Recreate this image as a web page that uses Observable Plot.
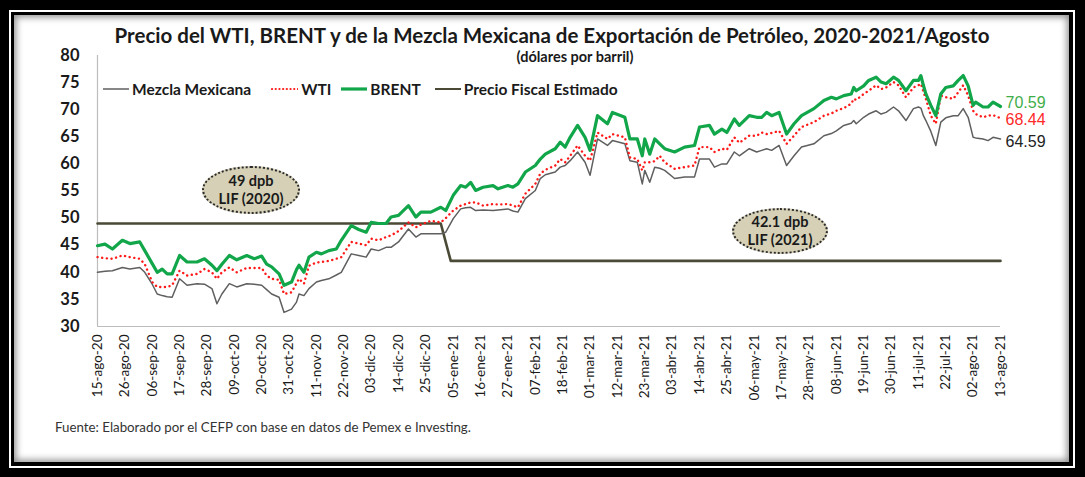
<!DOCTYPE html>
<html><head><meta charset="utf-8">
<script src="https://cdn.jsdelivr.net/npm/d3@7"></script>
<script src="https://cdn.jsdelivr.net/npm/@observablehq/plot@0.6"></script>
<style>
body{margin:0;background:#000;}
#frame{position:relative;width:1085px;height:477px;background:#000;overflow:hidden;font-family:Lato,"DejaVu Sans",sans-serif;}
#ring{position:absolute;left:9px;top:10px;width:1066px;height:458px;box-sizing:border-box;border:2px solid #fff;background:#000;}
#panel{position:absolute;left:14px;top:15px;width:1055px;height:447px;background:#fff;box-shadow:inset 0 0 7px 2px rgba(0,0,0,0.45);}
#chart{position:absolute;left:0;top:0;}
.title{position:absolute;left:0;width:1104px;text-align:center;top:23px;font-weight:bold;font-size:20.5px;color:#1a1a1a;white-space:nowrap;}
.subtitle{position:absolute;left:0;width:1150px;text-align:center;top:48px;font-weight:bold;font-size:14.5px;color:#1a1a1a;}
.legend{position:absolute;left:102px;top:80px;font-weight:bold;font-size:15.5px;color:#1a1a1a;display:flex;align-items:center;white-space:nowrap;}
.legend span.item{display:flex;align-items:center;}
.legend svg{margin-right:3px;}
.ell{position:absolute;box-sizing:border-box;border-radius:50%;background:#d6d1b6;border:2px dotted #2b2b2b;text-align:center;font-weight:bold;font-size:14.5px;line-height:18px;color:#1a1a1a;display:flex;flex-direction:column;justify-content:center;}
.foot{position:absolute;left:55px;top:419px;font-size:13.3px;color:#333;white-space:nowrap;}
</style></head>
<body>
<div id="frame">
  <div id="ring"></div>
  <div id="panel"></div>
  <div id="chart"></div>
  <div class="title">Precio del WTI, BRENT y de la Mezcla Mexicana de Exportación de Petróleo, 2020-2021/Agosto</div>
  <div class="subtitle">(dólares por barril)</div>
  <div class="legend" id="legend"></div>
  <div class="ell" style="left:202px;top:166px;width:98px;height:48px;"><div>49 dpb</div><div>LIF (2020)</div></div>
  <div class="ell" style="left:732px;top:208px;width:96px;height:46px;"><div>42.1 dpb</div><div>LIF (2021)</div></div>
  <div class="foot">Fuente: Elaborado por el CEFP con base en datos de Pemex e Investing.</div>
</div>
<script>
const dates = [
"2020-08-15","2020-08-18","2020-08-21","2020-08-25","2020-08-28","2020-09-01","2020-09-03","2020-09-06","2020-09-08","2020-09-10","2020-09-12","2020-09-14","2020-09-17","2020-09-20","2020-09-24","2020-09-27","2020-09-30","2020-10-02","2020-10-04","2020-10-07","2020-10-10","2020-10-14","2020-10-17","2020-10-20","2020-10-22","2020-10-24","2020-10-27","2020-10-29",
"2020-11-01","2020-11-03","2020-11-04","2020-11-06","2020-11-08","2020-11-11","2020-11-13","2020-11-16","2020-11-19","2020-11-21","2020-11-25","2020-11-28","2020-12-01","2020-12-03","2020-12-06","2020-12-09","2020-12-11","2020-12-14","2020-12-18","2020-12-21","2020-12-23","2020-12-27","2020-12-31",
"2021-01-02","2021-01-05","2021-01-08","2021-01-10","2021-01-12","2021-01-14","2021-01-17","2021-01-21","2021-01-23","2021-01-27","2021-01-29","2021-01-31","2021-02-03","2021-02-07","2021-02-09","2021-02-11","2021-02-15","2021-02-17","2021-02-19","2021-02-21","2021-02-24","2021-02-27","2021-03-01",
"2021-03-04","2021-03-08","2021-03-10","2021-03-15","2021-03-17","2021-03-20","2021-03-22","2021-03-23","2021-03-25","2021-03-27","2021-03-29","2021-03-31","2021-04-04","2021-04-08","2021-04-12",
"2021-04-14","2021-04-18","2021-04-20","2021-04-23","2021-04-25","2021-04-28","2021-04-30","2021-05-04","2021-05-07","2021-05-09","2021-05-11","2021-05-13","2021-05-16","2021-05-19","2021-05-22","2021-05-25","2021-05-30",
"2021-06-03","2021-06-06","2021-06-08","2021-06-11","2021-06-14","2021-06-15","2021-06-16","2021-06-19","2021-06-21","2021-06-24","2021-06-26","2021-06-28","2021-07-01","2021-07-03","2021-07-06","2021-07-09","2021-07-11","2021-07-12","2021-07-13","2021-07-14","2021-07-16","2021-07-18","2021-07-20","2021-07-22","2021-07-25","2021-07-27","2021-07-29","2021-07-31","2021-08-02","2021-08-03","2021-08-06","2021-08-08","2021-08-10","2021-08-13"];

const brent = [
44.9,45.2,44.3,45.9,45.3,45.6,44.0,41.6,40.0,40.6,39.7,39.7,43.1,41.9,41.9,42.5,41.3,40.3,41.5,43.1,42.3,43.1,42.5,43.0,41.5,41.0,39.7,37.6,
38.2,40.5,41.3,40.0,42.8,43.7,43.4,44.0,44.3,45.9,48.6,47.9,47.4,49.2,49.0,49.0,50.2,50.5,52.3,50.2,51.1,51.1,52.0,
51.4,54.2,56.0,55.7,56.6,55.1,55.7,56.0,55.4,56.0,55.7,56.3,58.5,59.7,60.9,61.8,62.8,64.0,63.1,64.9,67.1,64.9,62.5,
68.9,67.4,69.5,68.6,64.6,64.6,61.5,64.6,61.8,64.6,63.7,62.8,62.2,63.1,63.4,
66.8,67.1,65.5,66.4,65.8,68.3,67.1,68.9,68.6,68.6,69.5,68.9,69.5,65.5,67.4,68.9,70.2,
71.7,72.3,72.0,72.6,72.9,74.1,73.5,74.4,75.4,76.0,75.1,74.8,76.0,75.4,73.5,75.4,75.4,76.3,74.5,72.9,70.8,68.9,72.9,74.1,74.4,75.4,76.3,74.4,70.8,71.4,70.5,70.5,71.4,70.59];

const wti = [
42.8,42.6,42.5,43.1,42.8,42.5,41.5,38.2,37.3,37.3,37.3,37.6,40.3,39.4,39.7,40.6,40.0,38.8,40.0,40.9,40.0,40.8,40.8,40.8,39.4,38.8,38.6,36.0,
36.3,38.0,38.8,37.9,41.2,41.8,41.9,42.1,42.5,42.8,45.6,45.3,45.0,46.2,45.9,46.5,46.8,47.6,49.2,48.3,48.8,49.5,49.2,
50.0,51.4,52.3,52.6,52.9,52.9,52.3,52.6,52.5,52.6,52.3,52.0,54.5,56.3,58.2,58.9,59.7,60.9,60.3,61.5,63.4,61.5,60.6,
65.8,64.6,65.5,64.9,61.2,60.9,58.8,60.3,60.3,60.5,61.5,60.3,59.1,59.4,59.7,
63.1,63.1,62.2,62.8,62.6,64.9,63.9,65.2,65.2,65.8,65.5,65.7,66.1,63.7,65.2,66.8,67.7,
68.9,69.3,69.8,70.3,71.1,72.0,71.8,72.9,73.5,74.5,73.8,74.1,75.1,74.5,72.3,74.1,74.5,74.8,73.4,72.0,68.9,67.4,72.6,72.3,72.0,73.2,74.5,72.6,69.8,69.2,68.6,68.9,69.0,68.44];

const mezcla = [
40.0,40.2,40.3,40.9,40.6,40.9,40.0,37.8,36.0,35.7,35.5,35.4,38.8,37.6,37.9,37.8,37.0,34.2,36.0,37.9,37.3,37.9,37.8,37.6,36.8,36.0,35.4,32.6,
33.2,34.5,36.0,35.7,37.0,38.2,38.5,38.8,39.5,40.0,43.4,43.1,42.8,44.3,44.0,44.6,44.6,45.6,48.0,46.5,47.1,47.1,47.1,
47.4,49.9,51.7,51.9,52.0,51.4,51.5,51.4,51.5,51.7,51.3,51.1,53.6,55.1,57.3,58.0,58.5,59.4,59.7,60.6,62.2,60.3,57.9,
64.6,63.4,64.3,63.7,60.6,60.3,56.3,58.8,56.6,59.4,59.2,58.8,57.3,57.6,57.6,
60.9,60.9,59.4,60.0,60.0,62.2,61.5,62.8,62.2,62.5,62.8,62.5,63.4,59.7,61.5,63.1,63.7,
65.2,65.6,66.1,67.1,67.5,68.0,67.4,68.6,69.2,69.8,69.2,69.5,70.5,69.8,68.0,70.2,70.5,70.3,68.9,68.0,66.0,63.4,67.7,68.5,68.9,68.9,70.2,68.6,64.9,64.8,64.6,64.3,64.9,64.59];

const fiscalDates = ["2020-08-15","2020-12-31","2021-01-04","2021-08-13"];
const fiscalValues = [49, 49, 42.1, 42.1];

const yTicks = [30,35,40,45,50,55,60,65,70,75,80];
const xTickLabels = ["15-ago-20","26-ago-20","06-sep-20","17-sep-20","28-sep-20","09-oct-20","20-oct-20","31-oct-20","11-nov-20","22-nov-20","03-dic-20","14-dic-20","25-dic-20","05-ene-21","16-ene-21","27-ene-21","07-feb-21","18-feb-21","01-mar-21","12-mar-21","23-mar-21","03-abr-21","14-abr-21","25-abr-21","06-may-21","17-may-21","28-may-21","08-jun-21","19-jun-21","30-jun-21","11-jul-21","22-jul-21","02-ago-21","13-ago-21"];

const seriesNames = ["Mezcla Mexicana","WTI","BRENT","Precio Fiscal Estimado"];
const colors = {"Mezcla Mexicana":"#5f5f5f","WTI":"#ff1a1a","BRENT":"#12a64a","Precio Fiscal Estimado":"#4a4a36"};

const meses = {ene:0,feb:1,mar:2,abr:3,may:4,jun:5,jul:6,ago:7,sep:8,oct:9,nov:10,dic:11};
const parseLabel = s => { const [d,m,y] = s.split("-"); return new Date(Date.UTC(2000 + +y, meses[m], +d)); };
const tickDates = xTickLabels.map(parseLabel);
const labelByTime = new Map(tickDates.map((d,i) => [+d, xTickLabels[i]]));
const parse = s => new Date(s + "T00:00:00Z");

const rows = dates.map((d,i) => ({date: parse(d), brent: brent[i], wti: wti[i], mezcla: mezcla[i]}));
const fiscal = fiscalDates.map((d,i) => ({date: parse(d), v: fiscalValues[i]}));
const last = rows[rows.length-1];
const endFont = "Liberation Sans, Arial, sans-serif";

const chart = Plot.plot({
  width: 1085, height: 477,
  marginLeft: 97, marginRight: 85, marginTop: 55, marginBottom: 151,
  style: {background: "transparent", fontFamily: "Lato, sans-serif", overflow: "visible"},
  x: {type: "utc", domain: [parse("2020-08-15"), parse("2021-08-13")]},
  y: {domain: [30, 80]},
  marks: [
    Plot.axisY({ticks: yTicks, tickSize: 0, tickPadding: 18, fontSize: 16.5, fontWeight: "bold", fill: "#1a1a1a", label: null}),
    Plot.axisX({ticks: tickDates, tickFormat: d => labelByTime.get(+d), tickRotate: -90, tickSize: 0, tickPadding: 8, fontSize: 13.5, fill: "#1a1a1a", label: null}),
    Plot.ruleY([30], {stroke: "#bdbdbd", strokeWidth: 1.2}),
    Plot.ruleX([parse("2020-08-15")], {stroke: "#bdbdbd", strokeWidth: 1.2}),
    Plot.line(fiscal, {x: "date", y: "v", stroke: colors["Precio Fiscal Estimado"], strokeWidth: 2.6}),
    Plot.line(rows, {x: "date", y: "mezcla", stroke: colors["Mezcla Mexicana"], strokeWidth: 1.5}),
    Plot.line(rows, {x: "date", y: "wti", stroke: colors["WTI"], strokeWidth: 2.4, strokeDasharray: "0.1 4.6", strokeLinecap: "round"}),
    Plot.line(rows, {x: "date", y: "brent", stroke: colors["BRENT"], strokeWidth: 3.2, strokeLinejoin: "round"}),
    Plot.text([last], {x: "date", y: "brent", text: d => d.brent.toFixed(2), dx: 5, dy: -4, textAnchor: "start", fill: "#3fae49", fontSize: 16, fontFamily: endFont}),
    Plot.text([last], {x: "date", y: "wti", text: d => d.wti.toFixed(2), dx: 5, dy: 1.5, textAnchor: "start", fill: "#ff2a2a", fontSize: 16, fontFamily: endFont}),
    Plot.text([last], {x: "date", y: "mezcla", text: d => d.mezcla.toFixed(2), dx: 5, dy: 3, textAnchor: "start", fill: "#222", fontSize: 16, fontFamily: endFont})
  ]
});
document.getElementById("chart").appendChild(chart);

// legend
const leg = document.getElementById("legend");
const sample = name => {
  const c = colors[name];
  let attrs = `stroke="${c}" stroke-width="2"`;
  if (name === "WTI") attrs = `stroke="${c}" stroke-width="2.2" stroke-dasharray="0.1 3.6" stroke-linecap="round"`;
  if (name === "BRENT") attrs = `stroke="${c}" stroke-width="3.2"`;
  if (name === "Mezcla Mexicana") attrs = `stroke="${c}" stroke-width="1.5"`;
  return `<svg width="27" height="10"><line x1="1" y1="5" x2="27" y2="5" ${attrs}/></svg>`;
};
const gaps = [20, 9, 13, 0];
seriesNames.forEach((n,i) => {
  const s = document.createElement("span");
  s.className = "item";
  s.style.marginRight = gaps[i] + "px";
  s.innerHTML = sample(n) + `<span>${n}</span>`;
  leg.appendChild(s);
});
</script>
</body></html>
